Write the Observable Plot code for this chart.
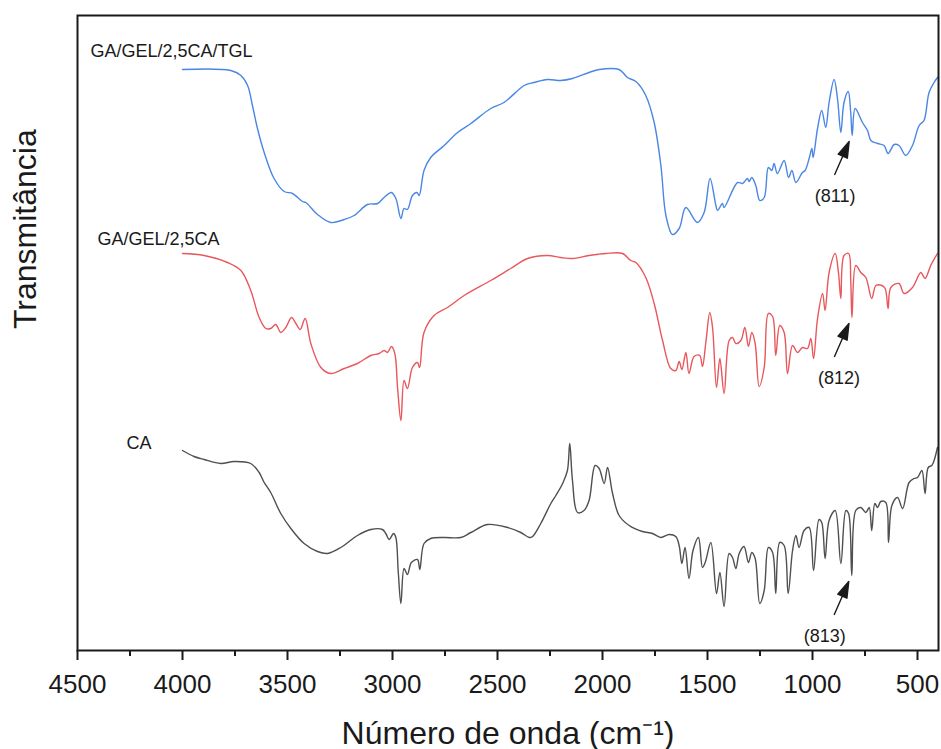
<!DOCTYPE html>
<html>
<head>
<meta charset="utf-8">
<script src="https://cdn.jsdelivr.net/npm/d3@7"></script>
<script src="https://cdn.jsdelivr.net/npm/@observablehq/plot@0.6"></script>
<style>
  html, body { margin: 0; padding: 0; background: #fff; }
</style>
</head>
<body>
<div id="chart"></div>
<script>
// FTIR spectra, vertically offset (transmittance in arbitrary units)
const seriesNames = ["GA/GEL/2,5CA/TGL", "GA/GEL/2,5CA", "CA"];
const seriesColors = ["#4a86e4", "#e8575b", "#4f4f4f"];

const tglWave = [4000,3770,3722,3690,3667,3643,3611,3564,3516,3476,3429,3413,3357,3294,3230,3183,3119,3071,3040,3005,2984,2960,2945,2929,2905,2884,2873,2850,2818,2754,2690,2627,2532,2469,2373,2326,2262,2199,2143,2064,2016,1921,1881,1841,1794,1754,1722,1698,1667,1635,1603,1548,1516,1488,1460,1452,1429,1421,1357,1333,1310,1302,1289,1270,1251,1230,1210,1194,1183,1167,1135,1114,1098,1079,1048,1035,1016,1003,997,976,956,937,921,897,881,865,850,830,818,811,797,762,738,722,690,659,640,611,588,556,524,492,469,445,421,405];
const tglTrans = [581,580,575,565,545,522,498,472,459,457,449,448,436,428,431,435,446,447,453,458,452,432,442,441,455,458,455,480,493,505,518,527,542,548,565,568,571,570,572,578,581,581,573,569,555,528,485,435,416,422,443,428,438,472,445,440,447,443,468,467,472,469,473,465,450,453,483,480,487,477,490,473,480,468,478,480,492,502,493,522,540,523,548,571,552,518,548,559,538,515,542,528,520,510,507,505,497,506,505,495,505,525,530,558,568,573];

const caGelWave = [4000,3897,3786,3722,3675,3635,3603,3580,3556,3532,3508,3481,3460,3440,3416,3389,3341,3294,3230,3167,3103,3064,3040,3024,3005,2989,2976,2960,2945,2929,2905,2881,2871,2850,2802,2738,2659,2532,2437,2357,2262,2199,2143,2064,1984,1905,1865,1841,1794,1754,1714,1675,1651,1635,1622,1603,1588,1564,1537,1524,1508,1489,1476,1457,1441,1421,1397,1381,1365,1341,1322,1305,1289,1273,1254,1230,1210,1190,1175,1156,1135,1119,1095,1071,1048,1024,1008,995,976,952,940,921,892,876,865,850,828,818,812,794,770,746,718,698,670,654,640,627,588,564,524,484,464,437,405];
const caGelTrans = [397,395,388,380,360,333,322,322,326,318,323,333,327,321,332,307,283,277,282,287,295,297,300,298,304,297,263,230,270,262,283,288,283,318,335,343,355,370,382,392,395,393,392,395,397,397,390,388,373,347,310,282,280,289,281,298,277,294,295,284,308,338,323,263,292,257,310,313,307,310,323,304,318,307,264,283,337,334,295,325,318,277,305,298,303,302,312,292,332,357,340,378,397,377,352,395,397,370,333,385,378,373,352,365,365,362,342,363,367,357,363,378,372,385,397];

const caWave = [4000,3945,3897,3818,3754,3675,3635,3611,3580,3532,3484,3421,3357,3310,3246,3167,3103,3048,3032,3016,2995,2984,2973,2960,2945,2929,2910,2881,2870,2850,2818,2754,2675,2627,2548,2452,2389,2349,2333,2294,2246,2222,2190,2167,2156,2143,2119,2088,2064,2035,2016,1992,1976,1952,1921,1873,1810,1762,1722,1683,1651,1635,1622,1607,1588,1569,1543,1524,1511,1484,1457,1441,1421,1397,1381,1365,1349,1326,1305,1289,1273,1251,1230,1210,1190,1175,1156,1135,1116,1095,1079,1064,1040,1016,995,969,956,940,921,892,865,841,828,813,794,770,746,730,718,703,690,675,651,638,622,595,571,540,516,500,479,464,449,432,421,405];
const caTrans = [200,194,191,187,189,187,178,168,158,137,122,107,99,97,103,115,121,121,117,111,117,113,80,47,82,76,88,91,81,107,112,113,113,118,126,123,118,113,114,127,147,155,167,180,207,170,138,140,150,185,182,167,183,157,135,125,119,117,113,116,114,105,87,103,72,100,113,83,88,108,57,78,44,97,93,82,97,104,88,98,92,47,60,103,98,57,108,105,57,100,115,103,120,123,80,131,128,92,130,140,87,140,137,75,140,143,138,143,120,147,143,149,148,108,145,153,142,168,172,173,180,157,183,185,190,203];

// Marked bands (cm-1) and the spectrum each one belongs to
const bandLabels = ["(811)", "(812)", "(813)"];
const bandWaves = [811, 812, 813];
const bandSeries = ["GA/GEL/2,5CA/TGL", "GA/GEL/2,5CA", "CA"];

const majorTicks = [4500, 4000, 3500, 3000, 2500, 2000, 1500, 1000, 500];
const minorTicks = [4250, 3750, 3250, 2750, 2250, 1750, 1250, 750];

// long-format table for the line mark
const spectra = [
  [seriesNames[0], tglWave, tglTrans],
  [seriesNames[1], caGelWave, caGelTrans],
  [seriesNames[2], caWave, caTrans]
];
const rows = spectra.flatMap(([name, w, t]) => w.map((wn, i) => ({series: name, wn, t: t[i]})));

// value of a spectrum at a given wavenumber (nearest sample)
function valueAt(name, wn) {
  const pts = rows.filter(r => r.series === name);
  return d3.least(pts, r => Math.abs(r.wn - wn)).t;
}

const bands = bandLabels.map((label, i) => ({
  label,
  wn: bandWaves[i],
  t: valueAt(bandSeries[i], bandWaves[i])
}));

// text offsets (px) for the series names and band labels
const nameOffset = {"GA/GEL/2,5CA/TGL": [-92, -18], "GA/GEL/2,5CA": [-85, -14], "CA": [-56, -7]};
const bandTextDx = {"(811)": -17, "(812)": -13, "(813)": -27};

// arrow: thin shaft with a filled triangular head
const arrowShape = {
  draw(context, l) {
    context.moveTo(0, 0);
    context.lineTo(0, -l + 12);
    context.moveTo(0, -l);
    context.lineTo(-5, -l + 16);
    context.lineTo(5, -l + 16);
    context.closePath();
  }
};

const font = "'Liberation Sans', Arial, Helvetica, sans-serif";
const ink = "#1a1a1a";

const chart = Plot.plot({
  width: 941,
  height: 749,
  marginLeft: 77,
  marginRight: 3,
  marginTop: 15,
  marginBottom: 99,
  style: {fontFamily: font, background: "#fff", color: ink, overflow: "visible"},
  x: {domain: [4500, 400], label: null},
  y: {domain: [0, 635], axis: null},
  color: {domain: seriesNames, range: seriesColors},
  marks: [
    Plot.line(rows, {x: "wn", y: "t", z: "series", stroke: "series", strokeWidth: 1.4, curve: "catmull-rom"}),
    ...seriesNames.map(name => {
      const first = rows.find(r => r.series === name);
      return Plot.text([first], {
        x: "wn", y: "t", text: () => name,
        textAnchor: "start", lineAnchor: "middle",
        dx: nameOffset[name][0], dy: nameOffset[name][1],
        fontSize: 18, fill: ink
      });
    }),
    Plot.vector(bands, {
      x: "wn", y: "t", length: 36, rotate: 23.7, anchor: "end",
      shape: arrowShape, stroke: ink, fill: ink, strokeWidth: 1.4,
      dx: -3, dy: 6
    }),
    ...bands.map(b => Plot.text([b], {
      x: "wn", y: "t", text: "label", dx: bandTextDx[b.label], dy: 61,
      fontSize: 18, fill: ink
    })),
    Plot.frame({stroke: ink, strokeWidth: 2}),
    Plot.axisX(minorTicks, {tickSize: 6, strokeWidth: 2, tickFormat: () => "", label: null}),
    Plot.axisX(majorTicks, {tickSize: 10, tickPadding: 14, strokeWidth: 2, fontSize: 26, label: null, fill: ink, tickFormat: d => String(d)}),
    Plot.text(["Número de onda (cm⁻¹)"], {
      frameAnchor: "bottom", lineAnchor: "bottom", dy: 93, fontSize: 32, fill: ink
    }),
    Plot.text(["Transmitância"], {
      frameAnchor: "left", rotate: -90, lineAnchor: "middle", dx: -52, dy: -4, fontSize: 32, fill: ink
    })
  ]
});

document.getElementById("chart").appendChild(chart);
</script>
</body>
</html>
